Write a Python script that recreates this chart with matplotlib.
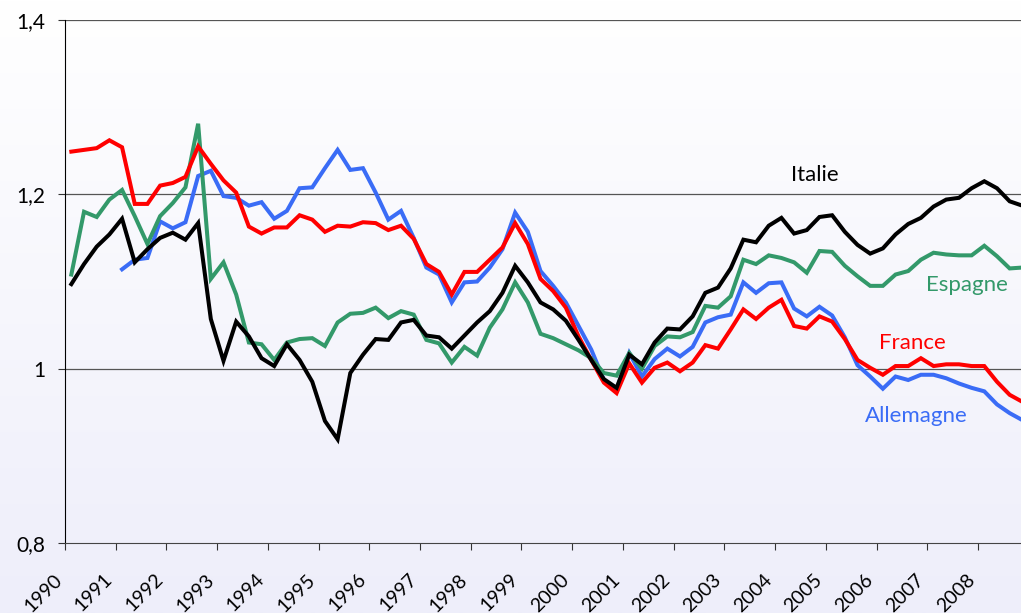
import numpy as np
import matplotlib.pyplot as plt
from matplotlib.colors import LinearSegmentedColormap

plt.rcParams['font.family'] = ['Lato', 'DejaVu Sans']

# trimestres 1990T1 .. 2008T4
years = list(range(1990, 2009))
nan = np.nan

france = [1.249, 1.251, 1.253, 1.262, 1.254, 1.189, 1.189, 1.210, 1.213, 1.220,
          1.255, 1.235, 1.216, 1.202, 1.163, 1.155, 1.162, 1.162, 1.176, 1.171,
          1.157, 1.164, 1.163, 1.168, 1.167, 1.159, 1.164, 1.149, 1.120, 1.111,
          1.085, 1.111, 1.111, 1.125, 1.139, 1.167, 1.143, 1.103, 1.089, 1.070,
          1.037, 1.010, 0.984, 0.972, 1.006, 0.984, 1.001, 1.007, 0.997, 1.007,
          1.027, 1.023, 1.045, 1.068, 1.057, 1.070, 1.079, 1.049, 1.046, 1.060,
          1.054, 1.034, 1.010, 1.001, 0.993, 1.003, 1.003, 1.012, 1.003, 1.005,
          1.005, 1.003, 1.003, 0.985, 0.970, 0.962]

allemagne = [nan, nan, nan, nan, 1.114, 1.125, 1.127, 1.169, 1.161, 1.168,
             1.221, 1.227, 1.198, 1.196, 1.187, 1.191, 1.172, 1.181, 1.207, 1.208,
             1.230, 1.251, 1.228, 1.230, 1.202, 1.171, 1.181, 1.150, 1.116, 1.108,
             1.076, 1.099, 1.100, 1.116, 1.137, 1.179, 1.157, 1.112, 1.095, 1.076,
             1.049, 1.022, 0.987, 0.976, 1.018, 0.991, 1.011, 1.023, 1.014, 1.025,
             1.053, 1.059, 1.062, 1.099, 1.087, 1.098, 1.099, 1.069, 1.060, 1.071,
             1.061, 1.036, 1.004, 0.991, 0.977, 0.991, 0.987, 0.993, 0.993, 0.989,
             0.983, 0.978, 0.974, 0.959, 0.949, 0.941]

espagne = [1.108, 1.180, 1.174, 1.194, 1.205, 1.175, 1.143, 1.175, 1.190, 1.208,
           1.281, 1.103, 1.122, 1.085, 1.030, 1.028, 1.010, 1.030, 1.034, 1.035,
           1.026, 1.053, 1.063, 1.064, 1.070, 1.058, 1.066, 1.062, 1.033, 1.029,
           1.007, 1.025, 1.015, 1.047, 1.068, 1.099, 1.076, 1.040, 1.035, 1.028,
           1.021, 1.012, 0.995, 0.992, 1.018, 1.000, 1.026, 1.037, 1.036, 1.042,
           1.072, 1.070, 1.083, 1.125, 1.120, 1.130, 1.127, 1.122, 1.110, 1.135,
           1.134, 1.118, 1.106, 1.095, 1.095, 1.108, 1.112, 1.125, 1.133, 1.131,
           1.130, 1.130, 1.141, 1.129, 1.115, 1.116]

italie = [1.097, 1.120, 1.140, 1.154, 1.172, 1.122, 1.137, 1.150, 1.156, 1.148,
          1.167, 1.057, 1.009, 1.054, 1.037, 1.012, 1.003, 1.028, 1.010, 0.985,
          0.940, 0.919, 0.995, 1.016, 1.034, 1.033, 1.053, 1.056, 1.038, 1.036,
          1.023, 1.038, 1.053, 1.066, 1.087, 1.118, 1.099, 1.076, 1.068, 1.055,
          1.033, 1.010, 0.988, 0.978, 1.016, 1.005, 1.030, 1.046, 1.045, 1.060,
          1.087, 1.093, 1.115, 1.148, 1.145, 1.164, 1.173, 1.155, 1.159, 1.174,
          1.176, 1.157, 1.142, 1.132, 1.138, 1.154, 1.166, 1.173, 1.186, 1.194,
          1.196, 1.207, 1.215, 1.207, 1.192, 1.187]

yticks = [0.8, 1.0, 1.2, 1.4]
ytick_labels = ['0,8', '1', '1,2', '1,4']

fig = plt.figure(figsize=(10.21, 6.13), dpi=100)

# fond dégradé blanc -> lavande
bg = fig.add_axes([0, 0, 1, 1], zorder=-10)
cmap = LinearSegmentedColormap.from_list('bg', ['#ffffff', '#eeeefa'])
bg.imshow(np.linspace(0, 1, 256).reshape(-1, 1), aspect='auto', cmap=cmap,
          extent=[0, 1, 0, 1])
bg.axis('off')

ax = fig.add_axes([65 / 1021, 1 - 543 / 613, 956 / 1021, 523 / 613])
ax.set_facecolor('none')

x = np.arange(len(france))
ax.plot(x, allemagne, color='#3a6cf6', lw=2.9, solid_joinstyle='miter', zorder=3)
ax.plot(x, espagne, color='#33996a', lw=2.9, solid_joinstyle='miter', zorder=3)
ax.plot(x, france, color='#ff0000', lw=2.9, solid_joinstyle='miter', zorder=4)
ax.plot(x, italie, color='#000000', lw=2.9, solid_joinstyle='miter', zorder=5)

ax.set_ylim(0.8, 1.4)
ax.set_xlim(-0.5, -0.5 + 956 / 12.68)

for yv in yticks[1:]:
    ax.axhline(yv, color='#555555', lw=0.9, zorder=1)

ax.set_yticks(yticks)
ax.set_yticklabels(ytick_labels, fontsize=15)
ax.set_xticks([-0.5 + 4 * i for i in range(len(years))])
ax.set_xticklabels([str(y) for y in years], rotation=45, ha='right', va='top',
                   fontsize=14)
ax.tick_params(axis='x', direction='out', length=5, pad=15, color='#333333')
ax.tick_params(axis='y', direction='out', length=5, pad=9, color='#333333')

for s in ['top', 'right']:
    ax.spines[s].set_visible(False)
ax.spines['left'].set_color('#000000')
ax.spines['bottom'].set_color('#444444')

# libellés des séries
ax.text(58.6, 1.222, 'Italie', color='#000000', fontsize=16, ha='center', va='center')
ax.text(70.6, 1.096, 'Espagne', color='#33996a', fontsize=16, ha='center', va='center')
ax.text(66.3, 1.029, 'France', color='#ff0000', fontsize=16, ha='center', va='center')
ax.text(66.6, 0.946, 'Allemagne', color='#3a6cf6', fontsize=16, ha='center', va='center')

plt.savefig('out.png', dpi=100)
